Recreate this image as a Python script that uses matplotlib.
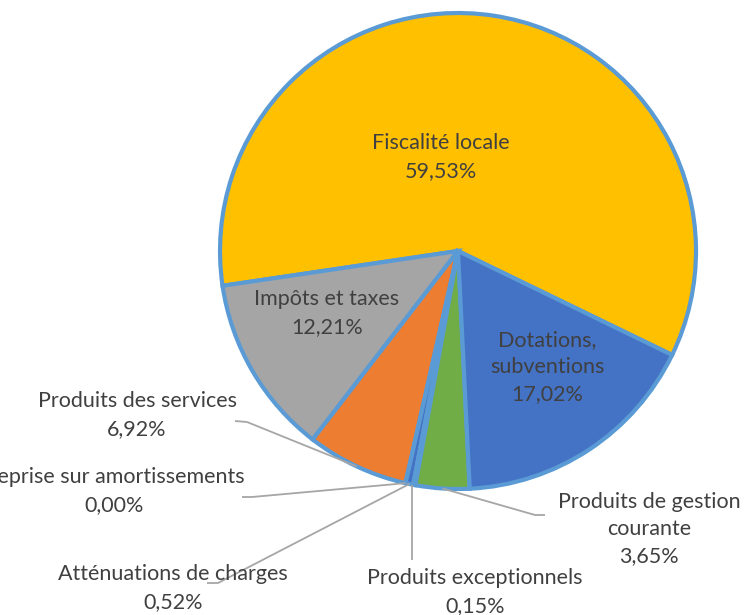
import matplotlib
matplotlib.use("Agg")
import matplotlib.pyplot as plt
import numpy as np

labels = ["Fiscalité locale", "Impôts et taxes", "Produits des services",
          "Reprise sur amortissements", "Atténuations de charges",
          "Produits exceptionnels", "Produits de gestion courante",
          "Dotations, subventions"]
values = [59.53, 12.21, 6.92, 0.00, 0.52, 0.15, 3.65, 17.02]
pct_text = ["59,53%", "12,21%", "6,92%", "0,00%", "0,52%", "0,15%", "3,65%", "17,02%"]
label_text = ["Fiscalité locale", "Impôts et taxes", "Produits des services",
              "Reprise sur amortissements", "Atténuations de charges",
              "Produits exceptionnels", "Produits de gestion\ncourante",
              "Dotations,\nsubventions"]
colors = ["#FFC000", "#A5A5A5", "#ED7D31", "#5B9BD5", "#4472C4", "#5B9BD5",
          "#70AD47", "#4472C4"]

W, H = 746, 615
fig = plt.figure(figsize=(W / 100, H / 100), dpi=100)
ax = fig.add_axes([0, 0, 1, 1])
ax.set_xlim(0, W)
ax.set_ylim(0, H)
ax.axis("off")

cx, cy, R = 458, H - 251, 238
start = -25.9
wedges, _ = ax.pie(values, colors=colors, startangle=start, counterclock=True,
                   center=(cx, cy), radius=R, frame=True,
                   wedgeprops=dict(edgecolor="#5B9BD5", linewidth=3.0))
ax.set_xlim(0, W)
ax.set_ylim(0, H)
ax.axis("off")

font = dict(family=["Lato", "DejaVu Sans"], fontsize=15.5, color="#404040",
            ha="center", va="center", linespacing=1.45)

# label positions (pixel coords from top-left)
pos = {
    0: (441, 157),
    1: (327, 313),
    2: (137, 415),
    3: (114, 491),
    4: (173, 588),
    5: (475, 592),
    6: (649, 529),
    7: (547, 367),
}
for i, (px, py) in pos.items():
    ax.text(px, H - py, label_text[i] + "\n" + pct_text[i], **font)

# leader lines
def anchor(i, rf=1.0):
    w = wedges[i]
    a = np.deg2rad((w.theta1 + w.theta2) / 2)
    return cx + R * rf * np.cos(a), cy + R * rf * np.sin(a)

elbows = {
    2: [(235, 421), (247, 422)],
    3: [(242, 497), (252, 497)],
    4: [(207, 583), (218, 583)],
    5: [(412, 560)],
    6: [(545, 515), (535, 515)],
}
for i, pts in elbows.items():
    ax_, ay_ = anchor(i)
    xs = [p[0] for p in pts] + [ax_]
    ys = [H - p[1] for p in pts] + [ay_]
    if i == 5:
        xs = [xs[0], xs[0]]
        ys = [ys[0], ay_]
    ax.plot(xs, ys, color="#A6A6A6", linewidth=1.3, solid_capstyle="butt")

fig.savefig("out.png", dpi=100)
